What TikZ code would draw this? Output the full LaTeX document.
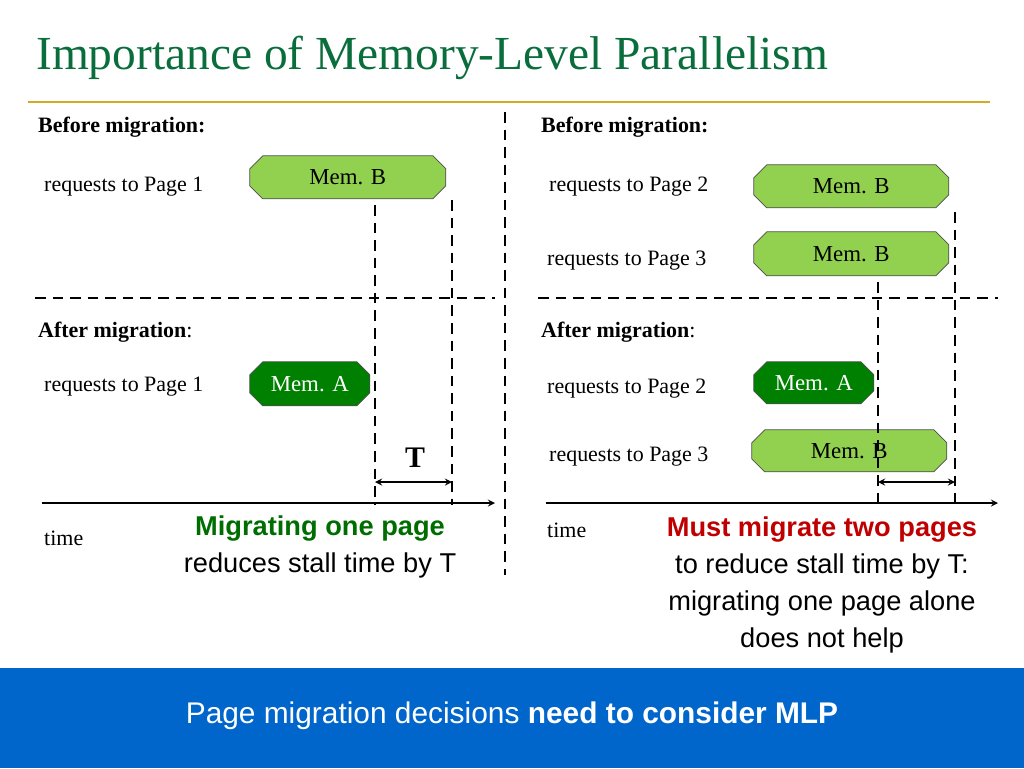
\documentclass[tikz,border=0pt]{standalone}
\usepackage{fontspec}
\setmainfont{Liberation Serif}
\setsansfont{Liberation Sans}
\usetikzlibrary{shapes.misc}
\definecolor{titlegreen}{RGB}{10,110,60}
\definecolor{lightgreen}{RGB}{146,208,80}
\definecolor{darkgreen}{RGB}{0,128,0}
\definecolor{rulegold}{RGB}{210,170,40}
\definecolor{bannerblue}{RGB}{0,102,204}
\definecolor{mustred}{RGB}{192,0,0}
\begin{document}
\begin{tikzpicture}
        [x=0.02cm, y=-0.02cm,
        memb/.style={chamfered rectangle, chamfered rectangle xsep=0.15cm, draw=black!70, fill=lightgreen, font=\fontsize{13}{15}\selectfont, inner sep=0pt, anchor=north west},
        mema/.style={memb, fill=darkgreen, text=white},
        edge/.style={thick, black, dash pattern=on 6pt off 4pt},
        label/.style={font=\fontsize{12.5}{15}\selectfont, anchor=west},
        head/.style={font=\fontsize{12.5}{15}\selectfont\bfseries, anchor=west},
        slide/.style={font=\sffamily\fontsize{15.5}{21}\selectfont, align=center}]

        \useasboundingbox (0,0) rectangle (1024,768);
        \fill[bannerblue] (0,668) rectangle (1024,768);

        % title
        \node[anchor=west, text=titlegreen, font=\fontsize{27}{30}\selectfont] (title) at (30,58) {Importance of Memory-Level Parallelism};
        \draw[rulegold, line width=1pt] (28,102) -- (990,102);

        % headings
        \node[head] (bl) at (32,127) {Before migration:};
        \node[head] (br) at (535,127) {Before migration:};
        \node[head] (al) at (32,332) {After migration\textmd{:}};
        \node[head] (ar) at (535,332) {After migration\textmd{:}};

        % request labels
        \node[label] (l1) at (38,187) {requests to Page 1};
        \node[label] (l2) at (38,387) {requests to Page 1};
        \node[label] (r1) at (543,187) {requests to Page 2};
        \node[label] (r2) at (541,261) {requests to Page 3};
        \node[label] (r3) at (541,389) {requests to Page 2};
        \node[label] (r4) at (543,457) {requests to Page 3};

        % memory accesses
        \node[memb, minimum width=3.92cm, minimum height=0.86cm] (b1) at (256,162) {Mem. B};
        \node[mema, minimum width=2.4cm, minimum height=0.88cm] (a1) at (256,368) {Mem. A};
        \node[memb, minimum width=3.9cm, minimum height=0.86cm] (b2) at (760,171) {Mem. B};
        \node[memb, minimum width=3.9cm, minimum height=0.88cm] (b3) at (760,238) {Mem. B};
        \node[mema, minimum width=2.4cm, minimum height=0.84cm] (a2) at (760,368) {Mem. A};
        \node[memb, minimum width=3.9cm, minimum height=0.84cm] (b4) at (758,436) {Mem. B};

        % guide lines
        \coordinate (t1) at (375,505);
        \coordinate (t2) at (452,505);
        \coordinate (t3) at (878,505);
        \coordinate (t4) at (955,505);
        \draw[edge] (375,205) -- (t1);
        \draw[edge] (452,200) -- (t2);
        \draw[edge] (878,282) -- (t3);
        \draw[edge] (955,212) -- (t4);
        \draw[edge] (35,298) -- (495,298);
        \draw[edge] (538,298) -- (998,298);
        \draw[edge] (505,112) -- (505,575);

        % time axes
        \draw[thick, -stealth] (42,503) -- (495,503);
        \draw[thick, -stealth] (546,503) -- (998,503);
        \node[label] (tl) at (38,538) {time};
        \node[label] (tr) at (541,530) {time};

        % stall time
        \draw[thick, stealth-stealth] (375,482) -- (452,482);
        \draw[thick, stealth-stealth] (878,482) -- (955,482);
        \node[font=\fontsize{17}{20}\selectfont\bfseries] (T) at (415,458) {T};

        % conclusions
        \node[slide] (cl) at (320,547) {\textbf{\textcolor{darkgreen!85!black}{Migrating one page}}\\reduces stall time by T};
        \node[slide] (cr) at (822,585) {\textbf{\textcolor{mustred}{Must migrate two pages}}\\to reduce stall time by T:\\migrating one page alone\\does not help};
        \node[slide, text=white, font=\sffamily\fontsize{17}{20}\selectfont] (msg) at (512,716) {Page migration decisions \textbf{need to consider MLP}};
    \end{tikzpicture}
\end{document}
